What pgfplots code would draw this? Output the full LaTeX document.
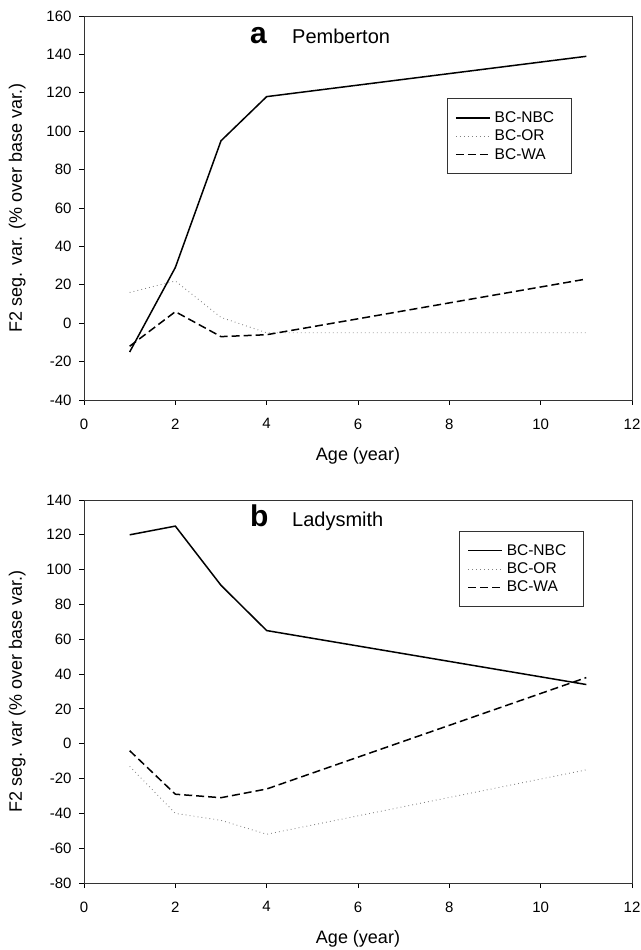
\documentclass[border=0pt]{standalone}
\usepackage{fontspec}
\setmainfont{Liberation Sans}
\usepackage{pgfplots}
\pgfplotsset{compat=1.18}

\pgfplotsset{
  panel/.style={
    scale only axis, width=548pt,
    xmin=0, xmax=12, xtick={0,2,...,12},
    axis line style={line width=0.9pt, black!80},
    tick align=outside, xtick pos=left, ytick pos=left,
    major tick length=5pt, tick style={line width=0.9pt, black},
    /pgf/number format/assume math mode=true,
    ticklabel style={font=\fontsize{15}{18}\selectfont},
    xticklabel style={yshift=-10pt},
    yticklabel style={xshift=-4pt},
    label style={font=\fontsize{18}{22}\selectfont},
    xlabel style={yshift=-11pt},
    ylabel style={yshift=14pt},
    xlabel={Age (year)},
    legend cell align=left,
    legend style={draw=black!80, line width=0.9pt, font=\fontsize{15.5}{18}\selectfont,
      anchor=north west, inner xsep=8pt, inner ysep=11pt, row sep=2pt, column sep=2pt},
    legend image code/.code={\draw[##1] (0pt,0pt) -- (34pt,0pt);},
  },
  nbc/.style={black, line width=1.5pt},
  or/.style={gray, line width=0.9pt, dash pattern=on 0.8pt off 3.2pt},
  wa/.style={black, line width=1.5pt, dash pattern=on 8pt off 4pt},
}

\begin{document}
\begin{tikzpicture}
\useasboundingbox (0,0) rectangle (640pt,950pt);

% panel a
\begin{axis}[panel, height=384pt, at={(84pt,550pt)}, anchor=south west,
  ymin=-40, ymax=160, ytick={-40,-20,...,160},
  ylabel={F2 seg. var. (\% over base var.)},
  legend style={at={(rel axis cs:0.662,0.786)}}]
\addplot[nbc] coordinates {(1,-15) (2,29) (3,95) (4,118) (11,139)};
\addplot[or] coordinates {(1,16) (2,22) (3,3) (4,-5) (11,-5)};
\addplot[wa] coordinates {(1,-12) (2,6) (3,-7) (4,-6) (11,23)};
\legend{BC-NBC\hspace*{7pt},BC-OR,BC-WA}
\end{axis}

% panel b
\begin{axis}[panel, height=383pt, at={(84pt,67pt)}, anchor=south west,
  ymin=-80, ymax=140, ytick={-80,-60,...,140},
  ylabel={F2 seg. var (\% over base var.)},
  legend style={at={(rel axis cs:0.684,0.919)}}]
\addplot[nbc] coordinates {(1,120) (2,125) (3,91) (4,65) (11,34)};
\addplot[or] coordinates {(1,-13) (2,-40) (3,-44) (4,-52) (11,-15)};
\addplot[wa] coordinates {(1,-4) (2,-29) (3,-31) (4,-26) (11,38)};
\legend{BC-NBC\hspace*{7pt},BC-OR,BC-WA}
\end{axis}

\node[anchor=base west, font=\fontsize{30}{30}\bfseries\selectfont, inner sep=0pt] at (250pt,906pt) {a};
\node[anchor=base west, font=\fontsize{20}{24}\selectfont, inner sep=0pt] at (292pt,906pt) {Pemberton};
\node[anchor=base west, font=\fontsize{30}{30}\bfseries\selectfont, inner sep=0pt] at (250pt,423pt) {b};
\node[anchor=base west, font=\fontsize{20}{24}\selectfont, inner sep=0pt] at (292pt,423pt) {Ladysmith};
\end{tikzpicture}
\end{document}
